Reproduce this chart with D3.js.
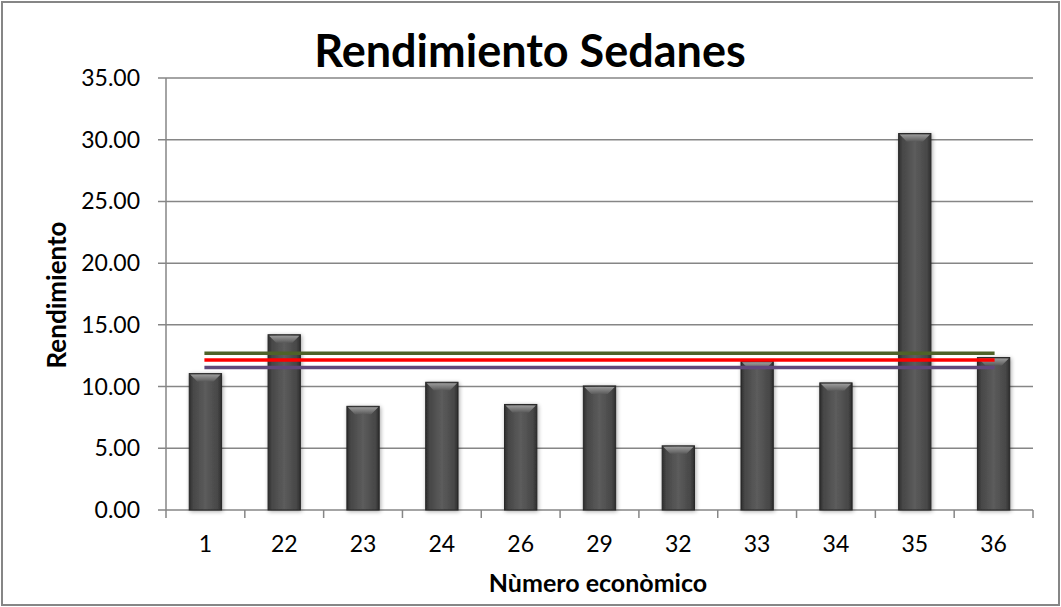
<!DOCTYPE html>
<html>
<head>
<meta charset="utf-8">
<script src="https://cdn.jsdelivr.net/npm/d3@7"></script>
<style>
  body { margin: 0; background: #fff; }
  svg { display: block; font-family: Lato, "Open Sans", sans-serif; }
</style>
</head>
<body>
<div id="chart"></div>
<script>
// Data
const categories = ["1", "22", "23", "24", "26", "29", "32", "33", "34", "35", "36"];
const rendimiento = [11.05, 14.2, 8.4, 10.35, 8.55, 10.05, 5.2, 12.05, 10.3, 30.5, 12.35];
const refLines = [
  { name: "max", value: 12.7, color: "#4f6228" },
  { name: "avg", value: 12.15, color: "#ff0000" },
  { name: "min", value: 11.55, color: "#604a7b" }
];
const yTicks = [0, 5, 10, 15, 20, 25, 30, 35];

const W = 1061, H = 607;
const margin = { top: 78, right: 28, bottom: 97, left: 166 };
const width = W - margin.left - margin.right;
const height = H - margin.top - margin.bottom;

const svg = d3.select("#chart").append("svg")
  .attr("width", W)
  .attr("height", H);

// Outer chart border
svg.append("rect")
  .attr("x", 2).attr("y", 2)
  .attr("width", W - 4).attr("height", H - 4)
  .attr("fill", "#fff")
  .attr("stroke", "#868686")
  .attr("stroke-width", 2);

const defs = svg.append("defs");
const grad = defs.append("linearGradient").attr("id", "barGrad")
  .attr("x1", "0%").attr("x2", "100%").attr("y1", "0%").attr("y2", "0%");
grad.append("stop").attr("offset", "0%").attr("stop-color", "#2e2e2e");
grad.append("stop").attr("offset", "12%").attr("stop-color", "#474747");
grad.append("stop").attr("offset", "50%").attr("stop-color", "#5c5c5c");
grad.append("stop").attr("offset", "88%").attr("stop-color", "#474747");
grad.append("stop").attr("offset", "100%").attr("stop-color", "#2e2e2e");

const bevel = defs.append("linearGradient").attr("id", "bevelGrad")
  .attr("x1", "0%").attr("x2", "0%").attr("y1", "0%").attr("y2", "100%");
bevel.append("stop").attr("offset", "0%").attr("stop-color", "#9a9a9a");
bevel.append("stop").attr("offset", "100%").attr("stop-color", "#5a5a5a");

const shadow = defs.append("filter").attr("id", "shadow")
  .attr("x", "-30%").attr("y", "-10%").attr("width", "160%").attr("height", "120%");
shadow.append("feGaussianBlur").attr("in", "SourceAlpha").attr("stdDeviation", 2);
shadow.append("feOffset").attr("dx", 1).attr("dy", 1).attr("result", "blur");
shadow.append("feComponentTransfer").append("feFuncA").attr("type", "linear").attr("slope", 0.35);
const merge = shadow.append("feMerge");
merge.append("feMergeNode");
merge.append("feMergeNode").attr("in", "SourceGraphic");

const g = svg.append("g")
  .attr("transform", `translate(${margin.left}, ${margin.top})`);

// Scales
const x = d3.scaleBand()
  .domain(categories)
  .range([0, width])
  .paddingInner(0.59)
  .paddingOuter(0.295);

const xTickScale = d3.scaleBand().domain(categories).range([0, width]);

const y = d3.scaleLinear()
  .domain([0, 35])
  .range([height, 0]);

// Gridlines
g.append("g")
  .selectAll("line")
  .data(yTicks)
  .enter()
  .append("line")
  .attr("x1", -8)
  .attr("x2", width)
  .attr("y1", d => y(d))
  .attr("y2", d => y(d))
  .attr("stroke", "#868686")
  .attr("stroke-width", 1.5);

// Y axis line and labels
g.append("line")
  .attr("x1", 0).attr("x2", 0)
  .attr("y1", 0).attr("y2", height)
  .attr("stroke", "#868686")
  .attr("stroke-width", 1.5);

g.append("g")
  .selectAll("text")
  .data(yTicks)
  .enter()
  .append("text")
  .attr("x", -26)
  .attr("y", d => y(d))
  .attr("dy", "0.35em")
  .attr("text-anchor", "end")
  .attr("font-size", 23)
  .attr("fill", "#000")
  .text(d => d3.format(".2f")(d));

// X axis ticks (between categories)
const xTickPos = categories.map(c => xTickScale(c)).concat([width]);
g.append("g")
  .selectAll("line")
  .data(xTickPos)
  .enter()
  .append("line")
  .attr("x1", d => d).attr("x2", d => d)
  .attr("y1", height).attr("y2", height + 8)
  .attr("stroke", "#868686")
  .attr("stroke-width", 1.5);

g.append("g")
  .selectAll("text")
  .data(categories)
  .enter()
  .append("text")
  .attr("x", d => xTickScale(d) + xTickScale.bandwidth() / 2)
  .attr("y", height + 34)
  .attr("dy", "0.35em")
  .attr("text-anchor", "middle")
  .attr("font-size", 23)
  .attr("fill", "#000")
  .text(d => d);

// Bars
const bars = g.append("g")
  .selectAll("g")
  .data(categories.map((c, i) => ({ c, v: rendimiento[i] })))
  .enter()
  .append("g")
  .attr("filter", "url(#shadow)");

bars.append("rect")
  .attr("x", d => x(d.c))
  .attr("y", d => y(d.v))
  .attr("width", x.bandwidth())
  .attr("height", d => height - y(d.v))
  .attr("fill", "url(#barGrad)")
  .attr("stroke", "#262626")
  .attr("stroke-width", 1);

// top bevel
bars.append("path")
  .attr("d", d => {
    const x0 = x(d.c) + 1, x1 = x(d.c) + x.bandwidth() - 1, top = y(d.v) + 1;
    const inset = 7;
    return `M${x0},${top} L${x1},${top} L${x1 - inset},${top + inset} L${x0 + inset},${top + inset} Z`;
  })
  .attr("fill", "url(#bevelGrad)");

// Reference lines (from first to last category centre)
const cx = c => xTickScale(c) + xTickScale.bandwidth() / 2;
g.append("g")
  .selectAll("line")
  .data(refLines)
  .enter()
  .append("line")
  .attr("x1", cx(categories[0]) - 1)
  .attr("x2", cx(categories[categories.length - 1]) + 1)
  .attr("y1", d => y(d.value))
  .attr("y2", d => y(d.value))
  .attr("stroke", d => d.color)
  .attr("stroke-width", 3.5);

// Titles
svg.append("text")
  .attr("x", 530)
  .attr("y", 67)
  .attr("text-anchor", "middle")
  .attr("font-size", 45)
  .attr("font-weight", "bold")
  .attr("fill", "#000")
  .text("Rendimiento Sedanes");

svg.append("text")
  .attr("x", 598)
  .attr("y", 592)
  .attr("text-anchor", "middle")
  .attr("font-size", 25)
  .attr("font-weight", "bold")
  .attr("fill", "#000")
  .text("Nùmero econòmico");

svg.append("text")
  .attr("transform", `translate(66, 295) rotate(-90)`)
  .attr("text-anchor", "middle")
  .attr("font-size", 26)
  .attr("font-weight", "bold")
  .attr("fill", "#000")
  .text("Rendimiento");
</script>
</body>
</html>
